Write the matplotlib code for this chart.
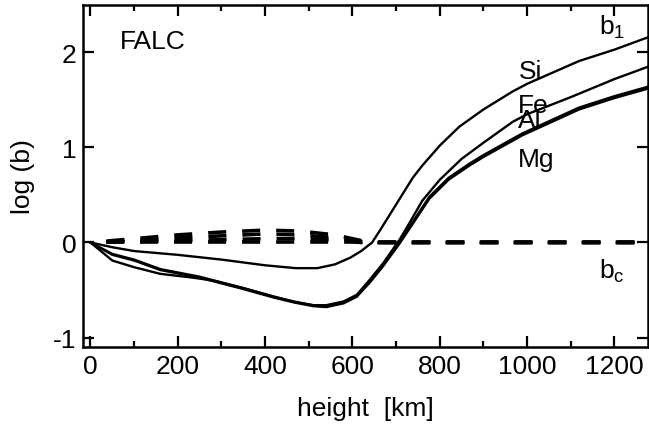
import numpy as np
import matplotlib
matplotlib.use("Agg")
import matplotlib.pyplot as plt
from matplotlib.ticker import MultipleLocator

# departure coefficients, FALC model
# solid: ground state b1, dashed: continuum bc
h_si = [0, 50, 100, 200, 300, 400, 470, 520, 560, 595, 620, 645, 662, 700,
        738, 760, 800, 845, 900, 967, 1000, 1119, 1200, 1277]
b1_si = [0, -0.05, -0.09, -0.13, -0.18, -0.24, -0.27, -0.27, -0.23, -0.16,
         -0.09, 0.0, 0.12, 0.40, 0.68, 0.81, 1.02, 1.22, 1.40, 1.59, 1.67,
         1.91, 2.03, 2.16]

h_fe = [0, 50, 100, 160, 235, 280, 350, 420, 470, 510, 540, 580, 610, 640,
        670, 708, 730, 760, 800, 850, 900, 967, 1000, 1100, 1200, 1277]
b1_fe = [0, -0.19, -0.26, -0.33, -0.37, -0.40, -0.48, -0.57, -0.63, -0.66,
         -0.66, -0.62, -0.55, -0.39, -0.22, 0.03, 0.20, 0.44, 0.66, 0.88,
         1.05, 1.27, 1.35, 1.53, 1.72, 1.85]

h_mg = [0, 50, 100, 160, 250, 350, 420, 465, 510, 540, 580, 610, 640, 670,
        708, 740, 776, 820, 868, 900, 990, 1119, 1200, 1277]
b1_al = [0, -0.12, -0.18, -0.28, -0.36, -0.48, -0.57, -0.62, -0.66, -0.67,
         -0.63, -0.56, -0.41, -0.24, 0.0, 0.23, 0.48, 0.68, 0.83, 0.92, 1.15,
         1.42, 1.54, 1.64]
b1_mg = [0, -0.13, -0.19, -0.29, -0.37, -0.49, -0.58, -0.63, -0.67, -0.68,
         -0.64, -0.57, -0.42, -0.25, -0.01, 0.21, 0.46, 0.66, 0.81, 0.90, 1.13,
         1.40, 1.52, 1.62]

h_bc = [0, 100, 200, 300, 400, 480, 560, 620, 660, 700, 800, 1000, 1277]
bc_si = [0, 0.04, 0.08, 0.11, 0.13, 0.12, 0.08, 0.02, 0, 0, 0, 0, 0]
bc_fe = [0, 0.02, 0.05, 0.07, 0.09, 0.08, 0.05, 0.01, 0, 0, 0, 0, 0]
bc_al = [0, 0.01, 0.02, 0.03, 0.04, 0.04, 0.03, 0.0, 0, 0, 0, 0, 0]
bc_mg = [0, 0, 0, 0, 0, 0, 0, 0, 0, 0, 0, 0, 0]

plt.rcParams["font.family"] = ["Liberation Sans", "DejaVu Sans"]
plt.rcParams["lines.scale_dashes"] = False
plt.rcParams["axes.unicode_minus"] = False

fig = plt.figure(figsize=(6.49, 4.27), dpi=100)
ax = fig.add_axes([0.128, 0.185, 0.8705, 0.801])

lw = 1.7
ax.plot(h_si, b1_si, color="black", lw=lw)
ax.plot(h_fe, b1_fe, color="black", lw=lw)
ax.plot(h_mg, b1_al, color="black", lw=lw)
ax.plot(h_mg, b1_mg, color="black", lw=lw)

for bc in [bc_si, bc_fe, bc_al, bc_mg]:
    ax.plot(h_bc, bc, color="black", lw=2.6, linestyle=(13, (13, 11.5)))

ax.set_xlim(-17, 1277)
ax.set_ylim(-1.1, 2.5)
ax.xaxis.set_major_locator(MultipleLocator(200))
ax.xaxis.set_minor_locator(MultipleLocator(100))
ax.yaxis.set_major_locator(MultipleLocator(1))
fs = 19
ax.tick_params(which="both", direction="in", top=True, right=True,
               labelsize=fs, width=1.6, pad=5)
ax.tick_params(which="major", length=8)
ax.tick_params(which="minor", length=4)
for s in ax.spines.values():
    s.set_linewidth(1.8)

ax.set_xlabel("height  [km]", fontsize=fs, labelpad=13)
ax.set_ylabel("log (b)", fontsize=fs, labelpad=13)

ax.text(67, 2.12, "FALC", fontsize=fs, va="center")
ax.text(980, 1.81, "Si", fontsize=fs, va="center")
ax.text(980, 1.45, "Fe", fontsize=fs, va="center")
ax.text(980, 1.29, "Al", fontsize=fs, va="center")
ax.text(980, 0.88, "Mg", fontsize=fs, va="center")
ax.text(1165, 2.28, r"b$_\mathregular{1}$", fontsize=fs, va="center")
ax.text(1165, -0.29, r"b$_\mathregular{c}$", fontsize=fs, va="center")

fig.savefig("out.png", dpi=100)
